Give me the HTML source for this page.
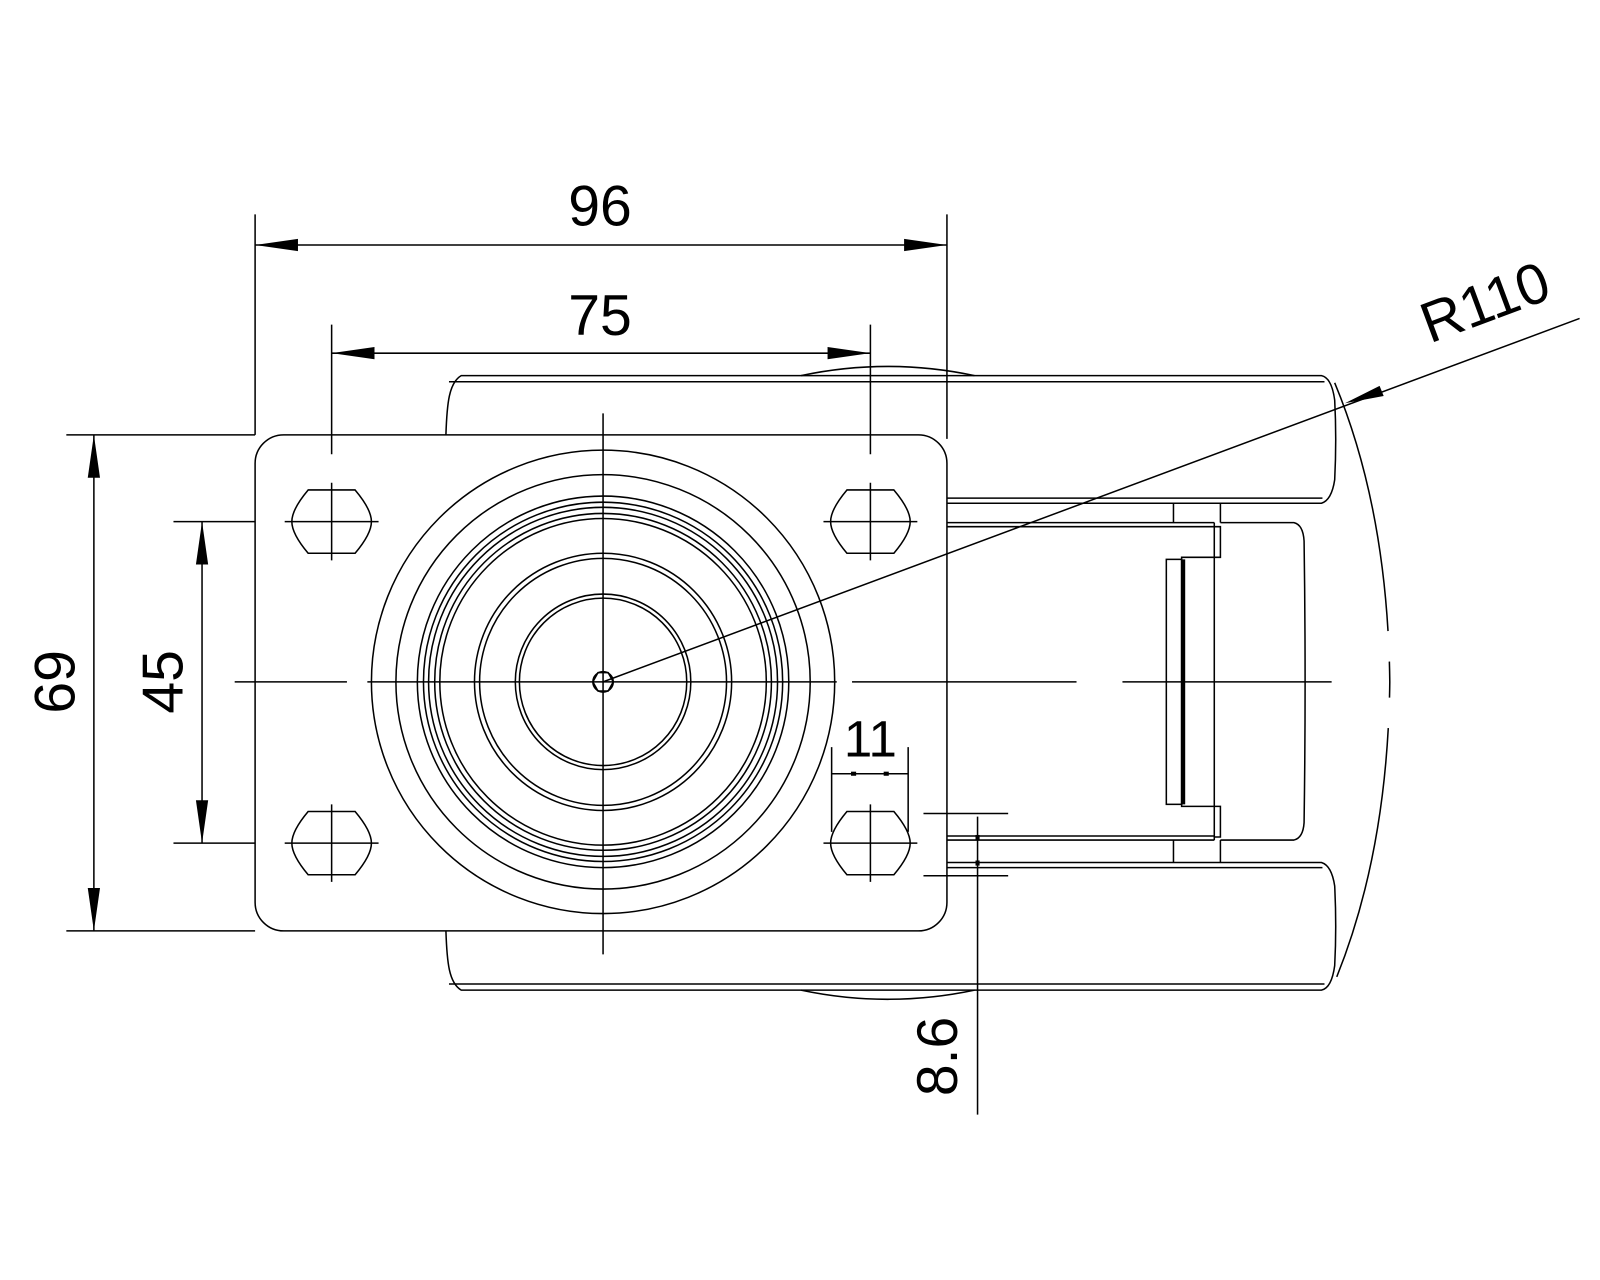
<!DOCTYPE html>
<html><head><style>html,body{margin:0;padding:0;background:#fff}svg{display:block}</style></head>
<body>
<svg width="1600" height="1280" viewBox="0 0 1568 1254" preserveAspectRatio="none" xmlns="http://www.w3.org/2000/svg">
<g fill="none" stroke="#000" stroke-width="1.5">
<path d="M437,426 C438,395 440,375 452,368 L1295,368 Q1305,370 1308,392 Q1310,430 1308,470 Q1305,490 1295,493 L928,493"/>
<line x1="440" y1="374" x2="1298" y2="374"/>
<line x1="928" y1="488" x2="1296" y2="488"/>
<path d="M437,912 C438,943 440,963 452,970 L1295,970 Q1305,968 1308,946 Q1310,908 1308,868 Q1305,848 1295,845 L928,845"/>
<line x1="440" y1="964" x2="1298" y2="964"/>
<line x1="928" y1="850" x2="1296" y2="850"/>
<path d="M785,368 Q870,350 955,368"/>
<path d="M785,970 Q870,988 955,970"/>
<line x1="928" y1="512" x2="1190" y2="512"/><line x1="928" y1="516" x2="1190" y2="516"/>
<line x1="928" y1="823" x2="1190" y2="823"/><line x1="928" y1="819" x2="1190" y2="819"/>
<line x1="1150" y1="493" x2="1150" y2="512"/><line x1="1196" y1="493" x2="1196" y2="512"/>
<line x1="1150" y1="823" x2="1150" y2="845"/><line x1="1196" y1="823" x2="1196" y2="845"/>
<line x1="1190" y1="512" x2="1190" y2="823"/>
<path d="M1190,516 L1196,516 L1196,546 L1158,546 L1158,790 L1196,790 L1196,820 L1190,820"/>
<rect x="1143" y="548" width="15" height="240"/>
<line x1="1160" y1="548" x2="1160" y2="788" stroke-width="3"/>
<path d="M1196,512 L1268,512 Q1277,514 1278,530 Q1280,668 1278,806 Q1277,821 1268,823 L1196,823"/>
<path d="M1308,375 Q1360,500 1362,668 Q1360,836 1308,962" stroke-dasharray="250,30,35,30"/>
<rect x="250" y="426" width="678" height="486" rx="28" fill="#fff"/>
<circle cx="591" cy="668" r="227"/><circle cx="591" cy="668" r="203"/>
<circle cx="591" cy="668" r="182"/><circle cx="591" cy="668" r="176"/>
<circle cx="591" cy="668" r="171"/><circle cx="591" cy="668" r="165"/>
<circle cx="591" cy="668" r="160"/><circle cx="591" cy="668" r="126"/>
<circle cx="591" cy="668" r="121"/><circle cx="591" cy="668" r="86"/>
<circle cx="591" cy="668" r="82"/>
<polygon points="601,668 596,677 586,677 581,668 586,659 596,659"/>
<circle cx="591" cy="668" r="10"/>
<path transform="translate(325,511)" d="M-23,-31 L23,-31 Q39,-12 39,0 Q39,12 23,31 L-23,31 Q-39,12 -39,0 Q-39,-12 -23,-31Z M-46,0 H46 M0,-38 V38"/>
<path transform="translate(853,511)" d="M-23,-31 L23,-31 Q39,-12 39,0 Q39,12 23,31 L-23,31 Q-39,12 -39,0 Q-39,-12 -23,-31Z M-46,0 H46 M0,-38 V38"/>
<path transform="translate(325,826)" d="M-23,-31 L23,-31 Q39,-12 39,0 Q39,12 23,31 L-23,31 Q-39,12 -39,0 Q-39,-12 -23,-31Z M-46,0 H46 M0,-38 V38"/>
<path transform="translate(853,826)" d="M-23,-31 L23,-31 Q39,-12 39,0 Q39,12 23,31 L-23,31 Q-39,12 -39,0 Q-39,-12 -23,-31Z M-46,0 H46 M0,-38 V38"/>
<path d="M230,668 H340 M360,668 H820 M835,668 H1055 M1100,668 H1305"/>
<path d="M591,405 V935"/>
<path d="M250,210 V426 M928,210 V430 M250,240 H928"/>
<path d="M325,318 V445 M853,318 V445 M325,346 H853"/>
<path d="M65,426 H250 M65,912 H250 M92,426 V912"/>
<path d="M170,511 H250 M170,826 H250 M198,511 V826"/>
<path d="M815,732 V815 M890,732 V815 M815,758 H890"/>
<path d="M905,797 H988 M905,858 H988 M958,800 V1092"/>
<path d="M591,668 L1548,312"/>
</g>
<g fill="#000">
<polygon points="250,240 292,234 292,246"/><polygon points="928,240 886,234 886,246"/>
<polygon points="325,346 367,340 367,352"/><polygon points="853,346 811,340 811,352"/>
<polygon points="92,426 86,468 98,468"/><polygon points="92,912 86,870 98,870"/>
<polygon points="198,511 192,553 204,553"/><polygon points="198,826 192,784 204,784"/>
<rect x="834" y="756" width="5" height="4"/><rect x="866" y="756" width="5" height="4"/>
<rect x="956" y="818" width="4" height="5"/><rect x="956" y="843" width="4" height="5"/>
<polygon points="1318,395 1352,378 1356,388"/>
</g>
<g font-family="Liberation Sans, sans-serif" font-size="56" fill="#000" text-anchor="middle">
<text x="588" y="221">96</text>
<text x="588" y="328">75</text>
<text x="853" y="741" font-size="50">11</text>
<text transform="translate(73,668) rotate(-90)">69</text>
<text transform="translate(179,668) rotate(-90)">45</text>
<text transform="translate(938,1035) rotate(-90)">8.6</text>
<text transform="translate(1462,314) rotate(-20.4)">R110</text>
</g>
</svg>
</body></html>
